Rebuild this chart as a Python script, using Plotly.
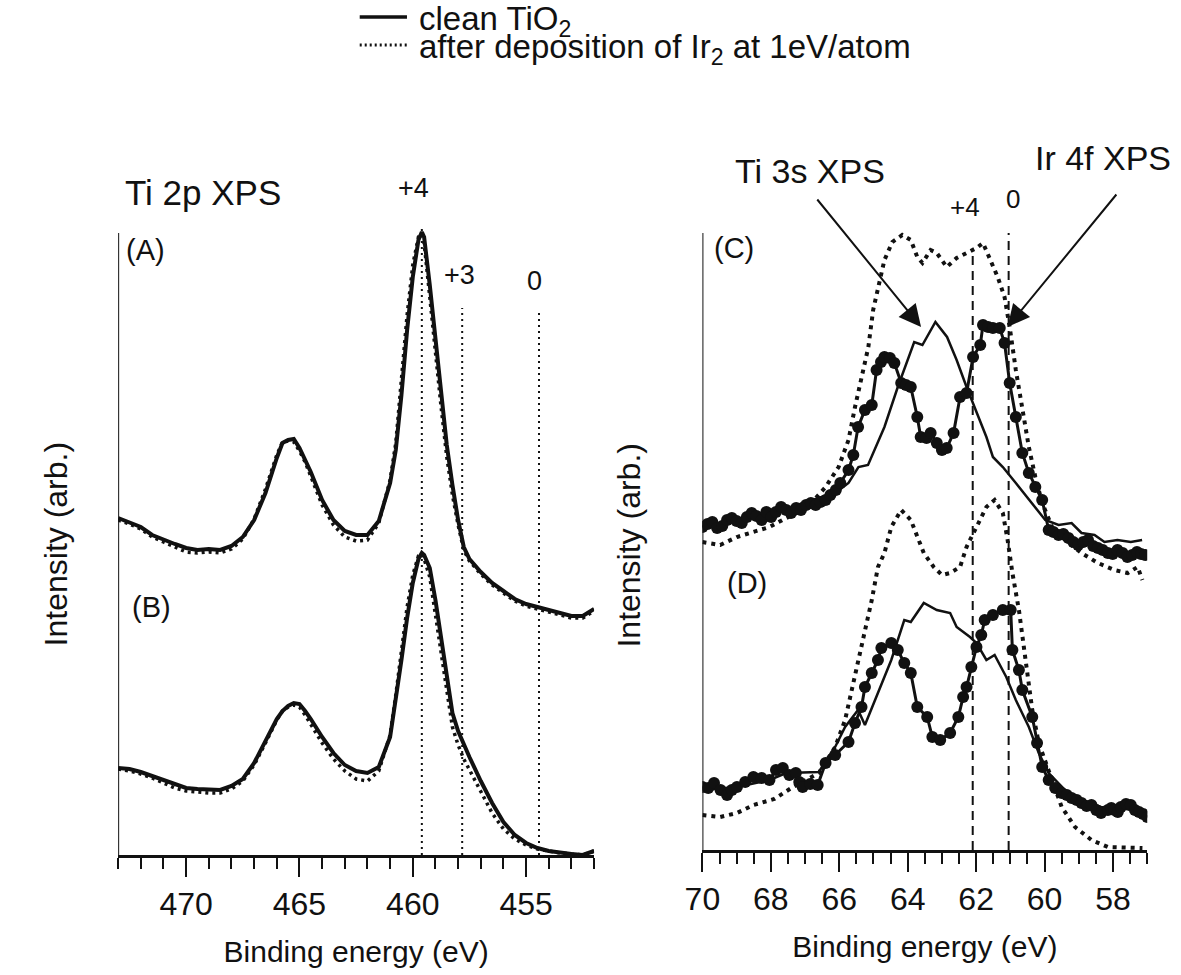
import plotly.graph_objects as go

# ---------------- Ti 2p XPS (panels A and B) ----------------
ev_ti2p = [473.0, 472.5, 472.0, 471.5, 471.0, 470.5, 470.0, 469.5, 469.0, 468.5,
           468.0, 467.5, 467.0, 466.5, 466.0, 465.75, 465.5, 465.25, 465.0, 464.75,
           464.5, 464.0, 463.5, 463.0, 462.5, 462.0, 461.5, 461.0, 460.75, 460.5,
           460.25, 460.0, 459.75, 459.6, 459.5, 459.25, 459.0, 458.75, 458.5, 458.25,
           458.0, 457.75, 457.5, 457.0, 456.5, 456.0, 455.5, 455.0, 454.5, 454.0,
           453.5, 453.0, 452.5, 452.0]
a_clean = [337, 333, 328, 320, 315, 311, 307, 305, 306, 305,
           309, 318, 335, 362, 397, 412, 415, 416, 407, 396,
           383, 355, 335, 324, 320, 320, 334, 372, 405, 460,
           525, 578, 615, 623, 618, 570, 515, 462, 410, 370,
           335, 308, 296, 283, 272, 264, 256, 251, 248, 245,
           242, 239, 239, 246]
a_ir2 = [335, 331, 326, 318, 313, 308, 303, 302, 303, 302,
         306, 316, 336, 366, 400, 413, 414, 413, 404, 393,
         379, 350, 330, 318, 314, 315, 332, 375, 412, 472,
         540, 590, 618, 621, 612, 558, 500, 448, 398, 360,
         330, 305, 294, 281, 270, 262, 254, 249, 246, 243,
         240, 237, 237, 244]
b_clean = [87, 86, 83, 79, 75, 70, 67, 66, 65, 65,
           69, 76, 92, 113, 136, 144, 149, 152, 151, 144,
           136, 118, 102, 90, 84, 82, 88, 118, 155, 195,
           237, 272, 296, 302, 300, 287, 255, 218, 180, 142,
           124, 110, 98, 74, 52, 33, 20, 12, 7, 4,
           2, 1, 0, 4]
b_ir2 = [86, 84, 81, 77, 72, 67, 64, 63, 62, 62,
         66, 74, 90, 112, 135, 144, 148, 150, 148, 140,
         131, 112, 96, 84, 76, 74, 84, 120, 160, 205,
         248, 280, 299, 301, 296, 278, 242, 203, 165, 128,
         110, 96, 85, 64, 42, 26, 16, 10, 6, 4,
         2, 1, 0, 4]

# chemical-state markers for Ti 2p3/2 (eV) and the height each guide line reaches
ti2p_states = {"+4": 459.6, "+3": 457.82, "0": 454.43}
ti2p_state_tops = {"+4": 630, "+3": 547, "0": 542}

# ---------------- Ti 3s / Ir 4f XPS (panels C and D) ----------------
ev_c_clean = [70.0, 69.5, 69.0, 68.5, 68.0, 67.5, 67.07, 66.6, 66.12, 65.73,
              65.44, 65.16, 64.9, 64.68, 64.29, 63.91, 63.81, 63.57, 63.19, 62.85,
              62.57, 62.28, 61.99, 61.70, 61.51, 61.22, 60.84, 60.36, 59.98, 59.59,
              59.21, 58.92, 58.54, 58.25, 57.87, 57.48, 57.15]
c_clean = [322, 325, 328, 333, 336, 341, 347, 352, 357, 367,
           383, 385, 405, 423, 463, 500, 508, 505, 528, 513,
           490, 463, 437, 413, 393, 383, 367, 347, 330, 325,
           327, 317, 315, 308, 310, 308, 310]

ev_c_ir4f = [70.0, 69.85, 69.71, 69.57, 69.42, 69.28, 69.14, 69.0, 68.85, 68.7,
             68.56, 68.42, 68.27, 68.13, 67.99, 67.85, 67.70, 67.55, 67.41, 67.26,
             67.12, 66.97, 66.83, 66.69, 66.55, 66.4, 66.26, 66.1, 65.97, 65.73,
             65.59, 65.45, 65.25, 65.05, 64.91, 64.78, 64.68, 64.52, 64.39, 64.19,
             64.05, 63.91, 63.72, 63.62, 63.45, 63.33, 63.15, 63.0, 62.86, 62.66,
             62.47, 62.28, 62.09, 61.88, 61.8, 61.65, 61.51, 61.31, 61.17, 61.02,
             60.84, 60.65, 60.46, 60.27, 60.07, 59.88, 59.74, 59.59, 59.45, 59.30,
             59.16, 59.02, 58.87, 58.73, 58.58, 58.44, 58.3, 58.15, 58.01, 57.87,
             57.72, 57.58, 57.44, 57.30, 57.18, 57.06]
c_ir4f = [323, 326, 328, 322, 324, 330, 332, 329, 327, 333,
          337, 334, 330, 338, 333, 338, 343, 340, 337, 342,
          340, 345, 347, 345, 348, 350, 355, 360, 367, 380,
          395, 423, 440, 445, 480, 488, 493, 492, 487, 467,
          465, 463, 433, 413, 412, 417, 407, 400, 402, 417,
          453, 457, 493, 505, 525, 523, 522, 522, 507, 467,
          433, 397, 377, 363, 350, 320, 318, 315, 316, 312,
          308, 305, 308, 310, 304, 302, 300, 297, 296, 300,
          297, 293, 295, 298, 296, 295]

ev_c_after = [70.0, 69.48, 68.99, 68.5, 68.04, 67.55, 67.07, 66.74, 66.40, 66.02,
              65.73, 65.54, 65.35, 65.15, 65.01, 64.87, 64.68, 64.45, 64.16, 63.91,
              63.72, 63.57, 63.33, 63.15, 62.86, 62.57, 62.28, 61.99, 61.8, 61.6,
              61.37, 61.17, 61.02, 60.84, 60.65, 60.46, 60.27, 60.07, 59.78, 59.40,
              58.92, 58.44, 57.96, 57.57, 57.28, 57.14]
c_after = [308, 305, 313, 318, 323, 332, 340, 350, 363, 383,
           410, 443, 473, 503, 540, 563, 590, 608, 615, 610,
           593, 587, 600, 597, 583, 592, 597, 602, 607, 590,
           573, 553, 523, 480, 443, 403, 373, 347, 323, 310,
           297, 287, 280, 277, 283, 270]

ev_d_clean = [70.0, 68.99, 68.04, 67.55, 66.60, 66.12, 65.83, 65.45, 65.25, 64.87,
              64.48, 64.10, 63.91, 63.53, 63.15, 62.76, 62.57, 62.18, 61.99, 61.70,
              61.46, 61.12, 60.84, 60.46, 60.17, 59.88, 59.40, 58.92, 58.35, 57.77,
              57.0]
d_clean = [60, 63, 70, 77, 78, 103, 123, 140, 125, 157,
           190, 230, 228, 247, 240, 237, 223, 213, 207, 190,
           195, 173, 150, 123, 97, 77, 60, 50, 43, 42,
           37]

ev_d_ir4f = [70.0, 69.83, 69.66, 69.47, 69.28, 69.14, 68.99, 68.75, 68.51, 68.27,
             68.04, 67.85, 67.65, 67.46, 67.27, 67.17, 67.07, 66.85, 66.63, 66.4,
             66.12, 65.73, 65.54, 65.35, 65.25, 65.05, 64.87, 64.77, 64.48, 64.29,
             64.10, 63.91, 63.72, 63.43, 63.28, 63.05, 62.76, 62.52, 62.38, 62.28,
             62.14, 61.99, 61.85, 61.75, 61.51, 61.22, 60.99, 60.94, 60.75, 60.65,
             60.36, 60.22, 60.07, 59.88, 59.69, 59.5, 59.35, 59.21, 59.06, 58.92,
             58.77, 58.63, 58.49, 58.35, 58.15, 58.05, 57.96, 57.86, 57.77, 57.62,
             57.48, 57.36, 57.24, 57.12, 57.0]
d_ir4f = [63, 62, 67, 60, 55, 60, 63, 68, 73, 72,
          70, 80, 82, 75, 77, 68, 63, 66, 65, 87,
          95, 108, 127, 143, 163, 177, 190, 202, 207, 200,
          187, 177, 143, 133, 113, 110, 117, 133, 153, 163,
          183, 203, 215, 230, 235, 240, 240, 200, 180, 160,
          133, 107, 83, 70, 62, 57, 55, 52, 50, 47,
          44, 45, 40, 37, 40, 42, 40, 38, 43, 46,
          45, 40, 38, 36, 33]

ev_d_after = [70.0, 69.48, 68.99, 68.51, 67.9, 67.4, 66.6, 66.12, 65.83, 65.54,
              65.25, 65.05, 64.87, 64.68, 64.48, 64.19, 63.91, 63.72, 63.53, 63.24,
              63.0, 62.76, 62.47, 62.28, 61.99, 61.70, 61.46, 61.22, 61.08, 60.94,
              60.75, 60.56, 60.36, 60.17, 59.88, 59.5, 59.11, 58.63, 58.15, 57.67,
              57.14]
d_after = [35, 33, 37, 45, 51, 62, 77, 103, 130, 173,
           217, 250, 283, 297, 323, 340, 330, 313, 297, 283,
           275, 277, 283, 303, 323, 343, 350, 337, 310, 277,
           240, 190, 140, 107, 80, 43, 23, 10, 3, 3,
           2]

# reference energies in the Ti 3s / Ir 4f region (eV) and guide-line heights
ti3s_states = {"+4": 62.1, "0": 61.05}
ti3s_state_tops = {"+4": 597, "0": 617}

# ---------------- figure geometry ----------------
W, H = 1181, 975
FONT = "Liberation Sans, Arial, Helvetica, sans-serif"
BLACK = "#111111"


def px(x):
    return x / W


def py(y):
    return 1 - y / H


fig = go.Figure()

solid_thick = dict(color=BLACK, width=4)
dotted_thick = dict(color=BLACK, width=3.5, dash="3px,4px")

# panels A and B
for ys_clean, ys_ir in ((a_clean, a_ir2), (b_clean, b_ir2)):
    fig.add_trace(go.Scatter(x=ev_ti2p, y=ys_ir, mode="lines", line=dotted_thick,
                             xaxis="x", yaxis="y", showlegend=False, hoverinfo="skip"))
    fig.add_trace(go.Scatter(x=ev_ti2p, y=ys_clean, mode="lines", line=solid_thick,
                             xaxis="x", yaxis="y", showlegend=False, hoverinfo="skip"))

# panels C and D
for (exa, ya), (exc, yc), (exi, yi) in (
        ((ev_c_after, c_after), (ev_c_clean, c_clean), (ev_c_ir4f, c_ir4f)),
        ((ev_d_after, d_after), (ev_d_clean, d_clean), (ev_d_ir4f, d_ir4f))):
    fig.add_trace(go.Scatter(x=exa, y=ya, mode="lines",
                             line=dict(color=BLACK, width=4, dash="4px,5px"),
                             xaxis="x2", yaxis="y2", showlegend=False, hoverinfo="skip"))
    fig.add_trace(go.Scatter(x=exc, y=yc, mode="lines",
                             line=dict(color=BLACK, width=2.5),
                             xaxis="x2", yaxis="y2", showlegend=False, hoverinfo="skip"))
    fig.add_trace(go.Scatter(x=exi, y=yi, mode="lines+markers",
                             line=dict(color=BLACK, width=3),
                             marker=dict(color=BLACK, size=12),
                             xaxis="x2", yaxis="y2", showlegend=False, hoverinfo="skip"))

shapes = []
# vertical axis lines (drawn as shapes so they stop below the top of the plotting area)
shapes.append(dict(type="line", xref="x", yref="y", x0=473, x1=473, y0=0, y1=622,
                   line=dict(color=BLACK, width=2)))
shapes.append(dict(type="line", xref="x2", yref="y2", x0=70, x1=70, y0=0, y1=617,
                   line=dict(color=BLACK, width=2)))
# chemical-state reference lines
for k, e in ti2p_states.items():
    shapes.append(dict(type="line", xref="x", yref="y", x0=e, x1=e, y0=0,
                       y1=ti2p_state_tops[k], line=dict(color=BLACK, width=2, dash="2px,4px")))
for k, e in ti3s_states.items():
    shapes.append(dict(type="line", xref="x2", yref="y2", x0=e, x1=e, y0=0,
                       y1=ti3s_state_tops[k], line=dict(color=BLACK, width=2, dash="9px,6px")))
# legend samples
shapes.append(dict(type="line", xref="paper", yref="paper", x0=px(347), x1=px(395),
                   y0=py(17), y1=py(17), line=dict(color=BLACK, width=3.5)))
shapes.append(dict(type="line", xref="paper", yref="paper", x0=px(347), x1=px(395),
                   y0=py(45), y1=py(45), line=dict(color=BLACK, width=3, dash="2px,3px")))


def label(text, x, y, size, xanchor="center", angle=0):
    return dict(text=text, x=px(x), y=py(y), xref="paper", yref="paper",
                xanchor=xanchor, yanchor="middle", showarrow=False, textangle=angle,
                font=dict(family=FONT, size=size, color=BLACK))


annotations = [
    label("clean TiO<sub>2</sub>", 405, 21, 33, xanchor="left"),
    label("after deposition of Ir<sub>2</sub> at 1eV/atom", 405, 49, 33, xanchor="left"),
    label("Ti 2p XPS", 188, 193, 35),
    label("+4", 402, 188, 27),
    label("+3", 448, 275, 27),
    label("0", 525, 281, 27),
    label("(A)", 129, 250, 29),
    label("(B)", 136, 607, 29),
    label("Ti 3s XPS", 804, 171, 34),
    label("Ir 4f XPS", 1102, 158, 34),
    label("+4", 962, 207, 26),
    label("0", 1010, 199, 26),
    label("(C)", 727, 248, 29),
    label("(D)", 740, 583, 29),
    label("Intensity (arb.)", 39, 544, 32, angle=-90),
    label("Intensity (arb.)", 620, 545, 32, angle=-90),
]
# arrows pointing at the Ti 3s and Ir 4f peaks
for head_x, head_y, ax, ay in ((63.61, 523, -105, -129), (61.08, 523, 110, -134)):
    annotations.append(dict(text="", x=head_x, y=head_y, xref="x2", yref="y2",
                            ax=ax, ay=ay, showarrow=True, arrowhead=2, arrowsize=2.2,
                            arrowwidth=2, arrowcolor=BLACK, standoff=0))

xaxis_common = dict(
    showline=True, linecolor=BLACK, linewidth=2.5, showgrid=False, zeroline=False,
    ticks="outside", ticklen=19, tickwidth=2, tickcolor=BLACK,
    tickfont=dict(family=FONT, size=32, color=BLACK),
    title=dict(text="Binding energy (eV)", font=dict(family=FONT, size=30, color=BLACK),
               standoff=20),
    tickmode="linear",
)

fig.update_layout(
    width=W, height=H, margin=dict(l=0, r=0, t=0, b=0),
    paper_bgcolor="white", plot_bgcolor="white",
    font=dict(family=FONT, color=BLACK),
    xaxis=dict(domain=[px(101.7), px(585)], range=[473, 452], anchor="y",
               tick0=470, dtick=5,
               minor=dict(dtick=1, tick0=470, ticks="outside", ticklen=11, tickwidth=2,
                          tickcolor=BLACK, showgrid=False),
               **xaxis_common),
    yaxis=dict(domain=[py(855), py(215)], range=[0, 640], visible=False, anchor="x"),
    xaxis2=dict(domain=[px(695), px(1146.7)], range=[70, 57], anchor="y2",
                tick0=70, dtick=2,
                minor=dict(dtick=0.5, tick0=70, ticks="outside", ticklen=11, tickwidth=2,
                           tickcolor=BLACK, showgrid=False),
                **xaxis_common),
    yaxis2=dict(domain=[py(850), py(215)], range=[0, 635], visible=False, anchor="x2"),
    shapes=shapes,
    annotations=annotations,
)

fig.write_html("out.html")
